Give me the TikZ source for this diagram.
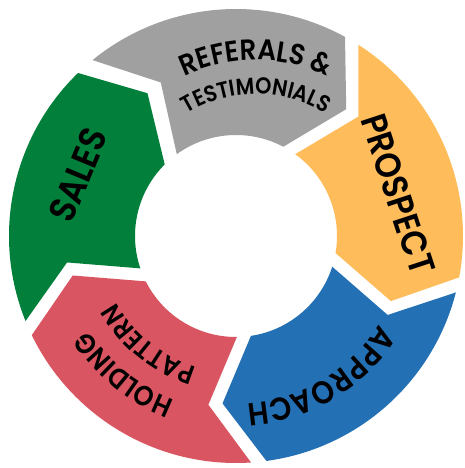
\documentclass[tikz,border=0pt]{standalone}
\usepackage{fontspec}
\newfontfamily\segfont{Poppins SemiBold}[FakeStretch=0.9]
\usetikzlibrary{decorations.text}
\usetikzlibrary{positioning}

\definecolor{segGray}{RGB}{160,160,160}
\definecolor{segOrange}{RGB}{254,188,90}
\definecolor{segBlue}{RGB}{36,112,181}
\definecolor{segRed}{RGB}{217,85,98}
\definecolor{segGreen}{RGB}{2,127,58}

\tikzset{
  seg/.style={draw=none},
  seglabel/.style={font=\segfont\fontsize{36}{36}\selectfont, text=black, inner sep=0pt, anchor=center},
  arclabel/.style={decorate, decoration={text along path, text align=center, text={#1}}}
}

\begin{document}
\begin{tikzpicture}[x=1pt,y=1pt]
\useasboundingbox (-236,-232) rectangle (228,236);
\fill [white] (-236,-232) rectangle (228,236);

%Shape: Referals segment
\fill [seg, segGray] (129.2:227) arc[start angle=129.2, end angle=61.3, radius=227] -- (49.0:168) -- (62.1:101) arc[start angle=62.1, end angle=125.9, radius=101] -- (116.1:171) -- cycle ;
%Shape: Prospect segment
\fill [seg, segOrange] (57.4:227) arc[start angle=57.4, end angle=-10.5, radius=227] -- (-22.8:168) -- (-9.7:101) arc[start angle=-9.7, end angle=54.1, radius=101] -- (44.3:171) -- cycle ;
%Shape: Approach segment
\fill [seg, segBlue] (-14.4:227) arc[start angle=-14.4, end angle=-82.3, radius=227] -- (-94.6:168) -- (-81.5:101) arc[start angle=-81.5, end angle=-17.7, radius=101] -- (-27.5:171) -- cycle ;
%Shape: Holding pattern segment
\fill [seg, segRed] (-86.2:227) arc[start angle=-86.2, end angle=-154.1, radius=227] -- (-166.4:168) -- (-153.3:101) arc[start angle=-153.3, end angle=-89.5, radius=101] -- (-99.3:171) -- cycle ;
%Shape: Sales segment
\fill [seg, segGreen] (202:227) arc[start angle=202, end angle=134.1, radius=227] -- (121.8:168) -- (134.9:101) arc[start angle=134.9, end angle=198.7, radius=101] -- (188.9:171) -- cycle ;

%Text: straight labels
\node [seglabel, font=\segfont\fontsize{37}{37}\selectfont, rotate=67.5] (sales) at (-158,61) {SALES};
\node [seglabel, rotate=-71.8] (prospect) at (162,42) {PROSPECT};

%Text: curved labels
\path [arclabel={|\segfont\fontsize{29}{29}\selectfont|REFERALS {\&}}] (20,10) ++(140:166) arc[start angle=140, end angle=40, radius=166] ;
\path [arclabel={|\segfont\fontsize{23}{23}\selectfont|TESTIMONIALS}] (20,10) ++(140:132) arc[start angle=140, end angle=40, radius=132] ;
\path [arclabel={|\segfont\fontsize{32}{32}\selectfont|APPROACH}] (-10:168) arc[start angle=-10, end angle=-108, radius=168] ;
\path [arclabel={|\segfont\fontsize{28}{28}\selectfont|HOLDING}] (-100:175) arc[start angle=-100, end angle=-158, radius=175] ;
\path [arclabel={|\segfont\fontsize{27}{27}\selectfont|PATTERN}] (-100:137) arc[start angle=-100, end angle=-158, radius=137] ;
\end{tikzpicture}
\end{document}
